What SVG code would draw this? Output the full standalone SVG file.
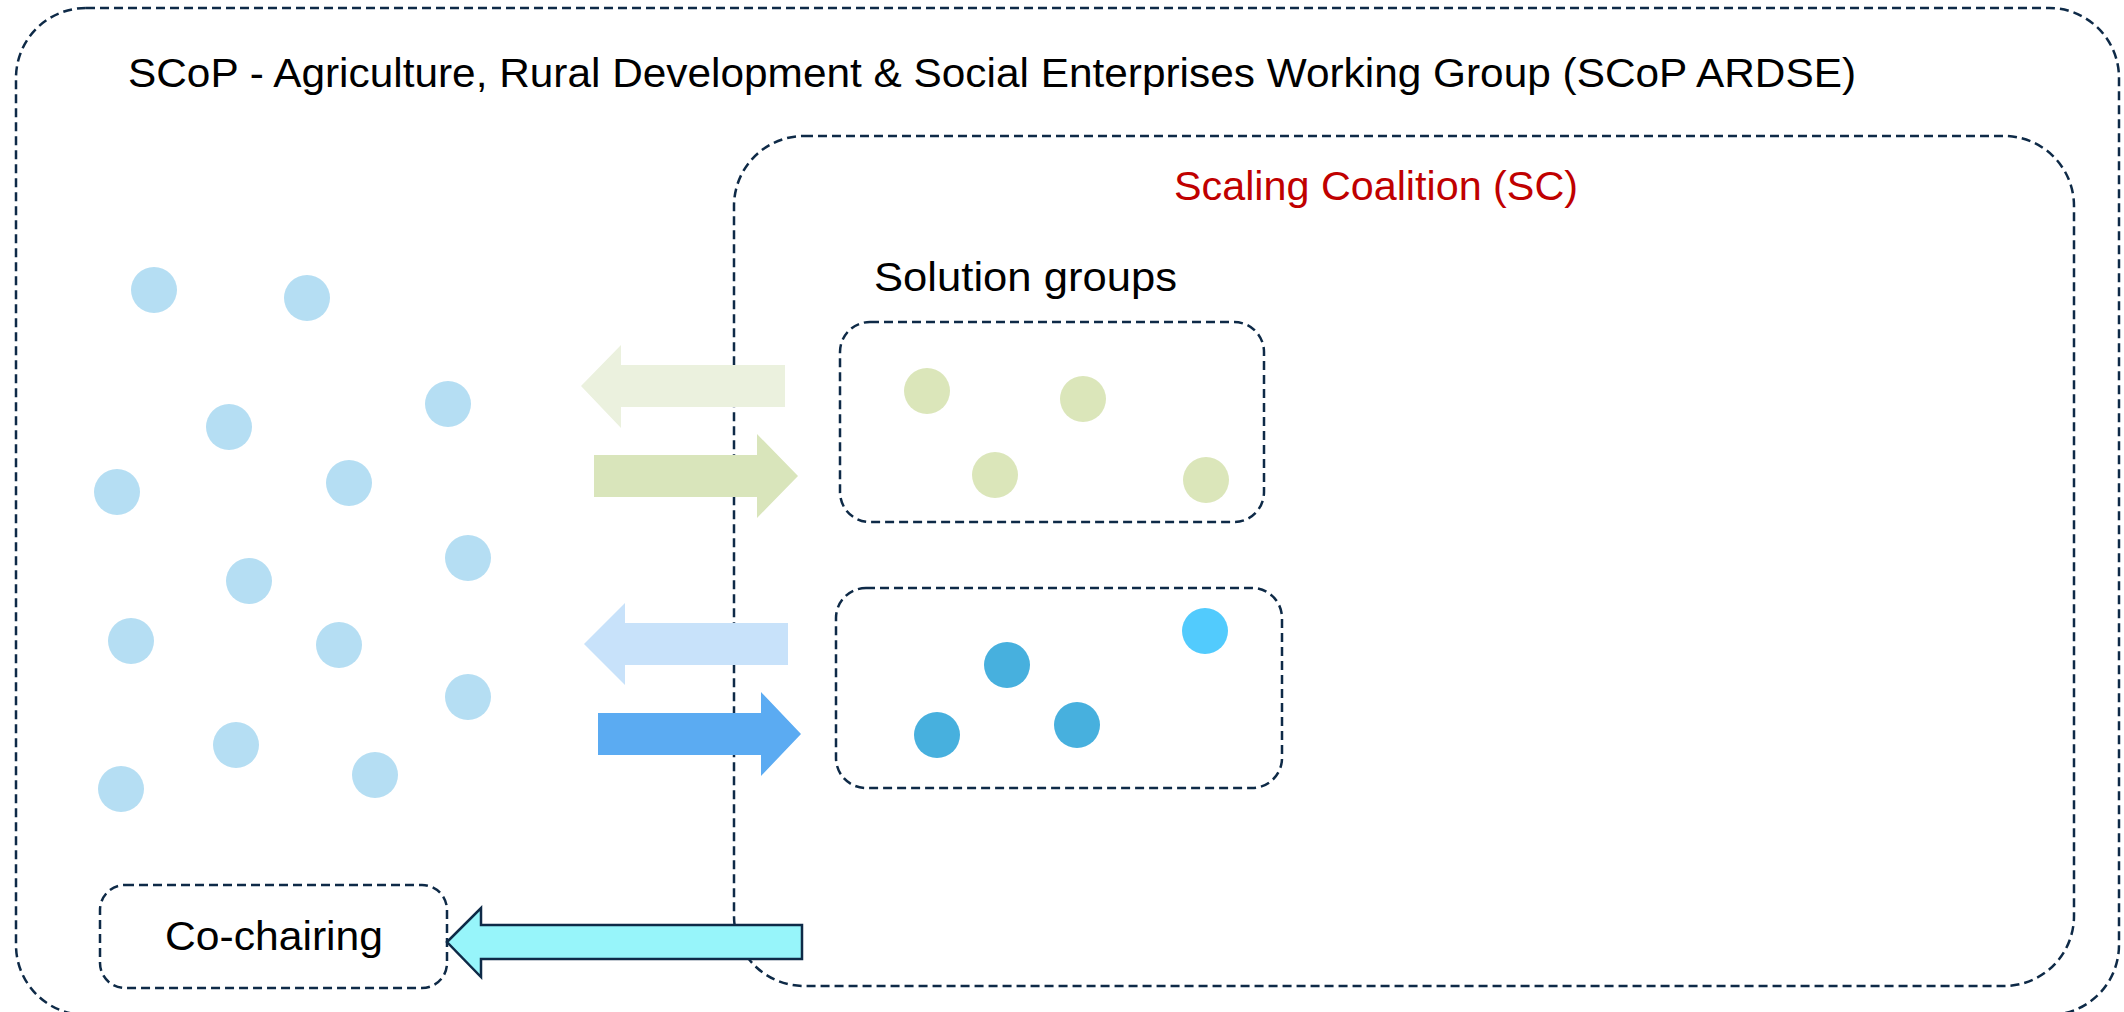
<svg xmlns="http://www.w3.org/2000/svg" width="2124" height="1012" viewBox="0 0 2124 1012">
  <style>
    .box { fill: none; stroke: #0E2A47; stroke-width: 2.5; stroke-dasharray: 9 5; }
    .lbl { font-family: "Liberation Sans", Arial, sans-serif; font-size: 41px; fill: #000000; }
    .red { fill: #C00000; }
    .m { fill: #B5DEF3; }
    .g { fill: #DBE6BA; }
    .b { fill: #47B0DE; }
    .c { fill: #52CBFD; }
  </style>
  <rect width="2124" height="1012" fill="#FFFFFF"/>

  <g id="scop-ardse">
    <rect class="box" x="16" y="8" width="2103" height="1007" rx="70" ry="70"/>
    <text class="lbl" x="128" y="87" textLength="1728" lengthAdjust="spacingAndGlyphs">SCoP - Agriculture, Rural Development &amp; Social Enterprises Working Group (SCoP ARDSE)</text>
  </g>

  <g id="members">
    <circle class="m" cx="154" cy="290" r="23"/>
    <circle class="m" cx="307" cy="298" r="23"/>
    <circle class="m" cx="448" cy="404" r="23"/>
    <circle class="m" cx="229" cy="427" r="23"/>
    <circle class="m" cx="117" cy="492" r="23"/>
    <circle class="m" cx="349" cy="483" r="23"/>
    <circle class="m" cx="468" cy="558" r="23"/>
    <circle class="m" cx="249" cy="581" r="23"/>
    <circle class="m" cx="131" cy="641" r="23"/>
    <circle class="m" cx="339" cy="645" r="23"/>
    <circle class="m" cx="468" cy="697" r="23"/>
    <circle class="m" cx="236" cy="745" r="23"/>
    <circle class="m" cx="375" cy="775" r="23"/>
    <circle class="m" cx="121" cy="789" r="23"/>
  </g>

  <g id="scaling-coalition">
    <rect class="box" x="734" y="136" width="1340" height="850" rx="70" ry="70"/>
    <text class="lbl red" x="1174" y="200" textLength="404" lengthAdjust="spacingAndGlyphs">Scaling Coalition (SC)</text>
    <text class="lbl" x="874" y="291" textLength="303" lengthAdjust="spacingAndGlyphs">Solution groups</text>
  </g>

  <g id="solution-group-1">
    <rect class="box" x="840" y="322" width="424" height="200" rx="30" ry="30"/>
    <circle class="g" cx="927" cy="391" r="23"/>
    <circle class="g" cx="1083" cy="399" r="23"/>
    <circle class="g" cx="995" cy="475" r="23"/>
    <circle class="g" cx="1206" cy="480" r="23"/>
  </g>

  <g id="solution-group-2">
    <rect class="box" x="836" y="588" width="446" height="200" rx="30" ry="30"/>
    <circle class="c" cx="1205" cy="631" r="23"/>
    <circle class="b" cx="1007" cy="665" r="23"/>
    <circle class="b" cx="1077" cy="725" r="23"/>
    <circle class="b" cx="937" cy="735" r="23"/>
  </g>

  <g id="co-chairing">
    <rect class="box" x="100" y="885" width="347" height="103" rx="25" ry="25"/>
    <text class="lbl" x="165" y="950" textLength="218" lengthAdjust="spacingAndGlyphs">Co-chairing</text>
  </g>

  <g id="connectors">
    <polygon fill="#EBF1DE" points="581,386 621,345 621,365 785,365 785,407 621,407 621,428"/>
    <polygon fill="#D9E5BB" points="594,455 757,455 757,434 798,476 757,518 757,497 594,497"/>
    <polygon fill="#C8E2FA" points="584,644 625,603 625,623 788,623 788,665 625,665 625,685"/>
    <polygon fill="#5BABF2" points="598,713 761,713 761,692 801,734 761,776 761,755 598,755"/>
    <polygon fill="#97F5FA" stroke="#0E2A47" stroke-width="2.5" stroke-linejoin="miter" points="447,942 481,908 481,925 802,925 802,959 481,959 481,977"/>
  </g>
</svg>
